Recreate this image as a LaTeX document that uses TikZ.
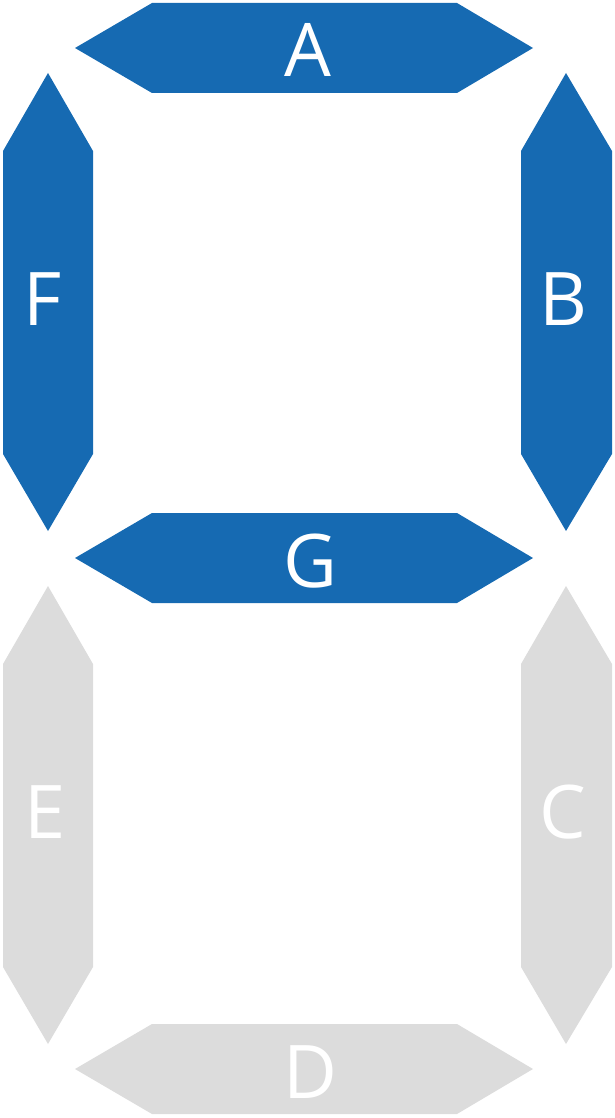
\documentclass[tikz,border=0pt]{standalone}
\usepackage{fontspec}
\setmainfont{Open Sans}
\definecolor{segblue}{HTML}{166AB2}
\definecolor{seggray}{HTML}{DCDCDC}
\begin{document}
\begin{tikzpicture}[x=1pt, y=-1pt,
  on/.style={fill=segblue},
  off/.style={fill=seggray},
  lbl/.style={text=white, inner sep=0pt, font=\fontsize{74}{74}\selectfont}
]
\useasboundingbox (0,0) rectangle (615,1118);
% lit segments
\fill[on] (75,48) -- (152,3) -- (457,3) -- (533,48) -- (457,93) -- (152,93) -- cycle;
\fill[on] (48,73) -- (93,151) -- (93,454) -- (48,531) -- (3,454) -- (3,151) -- cycle;
\fill[on] (566,73) -- (612,151) -- (612,454) -- (566,531) -- (521,454) -- (521,151) -- cycle;
\fill[on] (75,558) -- (152,513) -- (457,513) -- (533,558) -- (457,603) -- (152,603) -- cycle;
% dark segments
\fill[off] (48,586) -- (93,664) -- (93,967) -- (48,1044) -- (3,967) -- (3,664) -- cycle;
\fill[off] (566,586) -- (612,664) -- (612,967) -- (566,1044) -- (521,967) -- (521,664) -- cycle;
\fill[off] (75,1069) -- (152,1024) -- (457,1024) -- (533,1069) -- (457,1114) -- (152,1114) -- cycle;
\node[lbl] (a) at (308,50) {A};
\node[lbl] (f) at (43,299) {F};
\node[lbl] (b) at (563,299) {B};
\node[lbl] (g) at (310,561) {G};
\node[lbl] (e) at (45,812) {E};
\node[lbl] (c) at (563,812) {C};
\node[lbl] (d) at (310,1072) {D};
\end{tikzpicture}
\end{document}
